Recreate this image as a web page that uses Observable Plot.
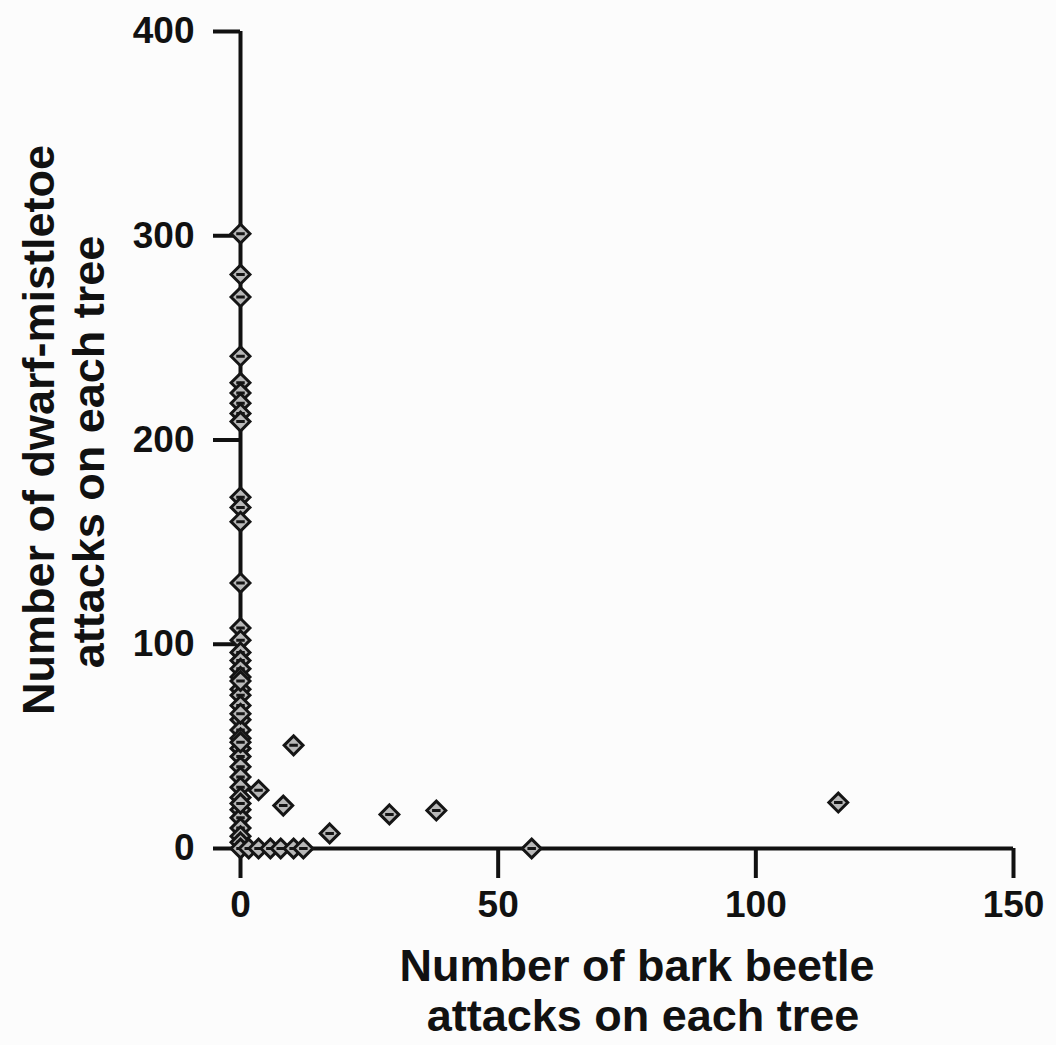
<!DOCTYPE html>
<html>
<head>
<meta charset="utf-8">
<script src="https://cdn.jsdelivr.net/npm/d3@7"></script>
<script src="https://cdn.jsdelivr.net/npm/@observablehq/plot@0.6"></script>
<style>
  html, body { margin: 0; padding: 0; background: #fcfcfc; }
  #chart svg { display: block; }
</style>
</head>
<body>
<div id="chart"></div>
<script>
// Bark beetle attacks (x) vs dwarf-mistletoe attacks (y) on each tree
const beetleAttacks = [
  0, 0, 0, 0, 0, 0, 0, 0, 0,
  0, 0, 0, 0, 0, 0, 0, 0, 0,
  0, 0, 0, 0, 0, 0, 0, 0, 0, 0, 0, 0, 0, 0, 0, 0, 0, 0, 0, 0, 0, 0, 0,
  1.6, 3.5, 5.8, 7.8, 10.3, 12.2,
  3.5, 10.3, 8.3, 17.3, 28.9, 38, 56.5, 116
];
const mistletoeAttacks = [
  301, 281, 270, 241, 228, 223, 218, 213, 209,
  172, 167, 160, 130, 108, 102, 96, 92, 88,
  84, 78, 75, 70, 63, 58, 54, 49, 45, 40, 35, 30, 25, 19, 15, 10, 6, 3, 0, 82, 66, 52, 22,
  0, 0, 0, 0, 0, 0,
  28.5, 50.5, 21, 7.4, 16.7, 18.6, 0, 22.5
];
const xTicks = [0, 50, 100, 150];
const yTicks = [0, 100, 200, 300, 400];
const xTitle = ["Number of bark beetle", "attacks on each tree"];
const yTitle = ["Number of dwarf-mistletoe", "attacks on each tree"];

const data = beetleAttacks.map((x, i) => ({x, y: mistletoeAttacks[i]}));

// diamond with a short horizontal bar inside
const barDiamond = {
  draw(context, size) {
    const r = Math.sqrt(size) * 0.62625;
    context.moveTo(0, -r);
    context.lineTo(r, 0);
    context.lineTo(0, r);
    context.lineTo(-r, 0);
    context.closePath();
    context.moveTo(-r * 0.45, 0);
    context.lineTo(r * 0.45, 0);
  }
};

const ink = "#111";
const font = "'Liberation Sans', Arial, Helvetica, sans-serif";
const titleStyle = {fontSize: 45, fontWeight: "bold", fill: ink, lineAnchor: "middle", textAnchor: "middle", text: d => d};

const chart = Plot.plot({
  width: 1056,
  height: 1045,
  marginLeft: 240,
  marginRight: 43,
  marginTop: 31,
  marginBottom: 197,
  style: {background: "#fcfcfc", fontFamily: font, color: ink},
  x: {domain: [0, 150]},
  y: {domain: [0, 400]},
  marks: [
    Plot.axisX({ticks: xTicks, tickSize: 30, tickPadding: 12, strokeWidth: 4, stroke: ink,
      fontSize: 37, fontWeight: "bold", fill: ink, label: null}),
    Plot.axisY({ticks: yTicks, tickSize: 27, tickPadding: 19, strokeWidth: 4, stroke: ink,
      fontSize: 37, fontWeight: "bold", fill: ink, label: null}),
    Plot.ruleX([0], {stroke: ink, strokeWidth: 4}),
    Plot.ruleY([0], {stroke: ink, strokeWidth: 4, x1: -1.2, x2: 150}),
    Plot.dot(data, {x: "x", y: "y", symbol: barDiamond, r: 8.5, fill: "#b8b8b8", stroke: "#151515", strokeWidth: 3}),
    Plot.text([xTitle[0]], {...titleStyle, frameAnchor: "bottom", dx: 10, dy: 118}),
    Plot.text([xTitle[1]], {...titleStyle, frameAnchor: "bottom", dx: 16, dy: 168}),
    Plot.text([yTitle[0]], {...titleStyle, frameAnchor: "left", dx: -201, dy: -10, rotate: -90}),
    Plot.text([yTitle[1]], {...titleStyle, frameAnchor: "left", dx: -151, dy: 12, rotate: -90})
  ]
});
document.getElementById("chart").appendChild(chart);
</script>
</body>
</html>
